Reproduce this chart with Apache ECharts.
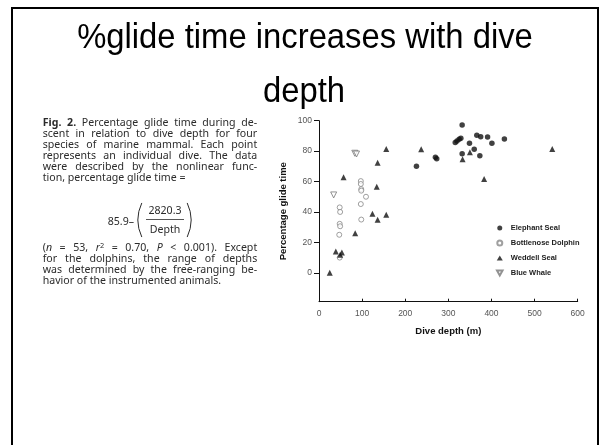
<!DOCTYPE html>
<html>
<head>
<meta charset="utf-8">
<script src="https://cdn.jsdelivr.net/npm/echarts@6/dist/echarts.min.js"></script>
<style>html,body{margin:0;padding:0;background:#fff}#main{width:602px;height:445px}</style>
</head>
<body>
<div id="main"></div>
<script>
// values: [depth (m), % glide time]
var xTicks = [0, 100, 200, 300, 400, 500, 600];
var yTicks = [0, 20, 40, 60, 80, 100];
var seriesNames = ['Elephant Seal', 'Bottlenose Dolphin', 'Weddell Seal', 'Blue Whale'];
var elephantSeal = [[226,70],[270,76],[273,75],[316,85.6],[320,86.7],[325,87.8],[329,88.4],[332,97.2],[332,78.3],[349,85.2],[360,81.2],[366,90.4],[373,77],[375,89.5],[391,89.3],[401,85.2],[430,88]];
var bottlenoseDolphin = [[48,43],[49,40],[48,32.2],[49,30.6],[47,25],[48,10],[97,60.3],[97,58.4],[98,55],[98,54],[109,50],[97,45.2],[98,35]];
var weddellSeal = [[25,0],[39,14],[49,11.8],[53,13.3],[84,26],[57,62.8],[124,38.9],[136,34.8],[156,38.1],[134,56.5],[136,72.4],[156,81.4],[237,81.2],[350,79.3],[333,74.7],[383,61.7],[541,81.4]];
var blueWhale = [[34,51.2],[83,78.6],[87,78.1]];

var titleLines = ['%glide time increases with dive', 'depth'];
// * bold, _ italic, ^ superscript; | splits a word into pieces
var captionTop = [
  {text: '*Fig.| *2.| Percentage glide time during de-', justify: true},
  {text: 'scent in relation to dive depth for four', justify: true},
  {text: 'species of marine mammal. Each point', justify: true},
  {text: 'represents an individual dive. The data', justify: true},
  {text: 'were described by the nonlinear func-', justify: true},
  {text: 'tion, percentage glide time =', justify: false}
];
var captionBottom = [
  {text: '(|_n = 53, _r|^2 = 0.70, _P < 0.001). Except', justify: true},
  {text: 'for the dolphins, the range of depths', justify: true},
  {text: 'was determined by the free-ranging be-', justify: true},
  {text: 'havior of the instrumented animals.', justify: false}
];

var capFamily = 'Noto Sans';
var capSize = 10.6;
var capColor = '#2b2b2b';
var capScaleY = 1.04;
var ctx = document.createElement('canvas').getContext('2d');

function segStyle(k, text) {
  return {
    text: text,
    fontSize: k == 's' ? capSize * 0.7 : capSize,
    fontFamily: capFamily,
    fontWeight: k == 'b' ? 'bold' : 'normal',
    fontStyle: k == 'i' ? 'italic' : 'normal',
    fill: capColor,
    verticalAlign: 'middle'
  };
}
function segFont(k) {
  var s = segStyle(k, '');
  return s.fontStyle + ' ' + s.fontWeight + ' ' + s.fontSize + 'px "' + capFamily + '"';
}
function parseWord(w) {
  return w.split('|').map(function (p) {
    var k = '';
    var c = p.charAt(0);
    if (c == '*') k = 'b';
    else if (c == '_') k = 'i';
    else if (c == '^') k = 's';
    if (k) p = p.slice(1);
    ctx.font = segFont(k);
    return {t: p, k: k, w: ctx.measureText(p).width};
  });
}
function captionText(lines, y0, pitch, left, width) {
  var els = [];
  ctx.font = segFont('');
  var space = ctx.measureText(' ').width;
  lines.forEach(function (line, i) {
    var words = line.text.split(' ').map(parseWord);
    var ww = words.map(function (s) { return s.reduce(function (a, b) { return a + b.w; }, 0); });
    var total = ww.reduce(function (a, b) { return a + b; }, 0);
    var gap = line.justify ? (width - total) / (words.length - 1) : space;
    var x = left;
    var y = y0 + i * pitch;
    words.forEach(function (segs) {
      segs.forEach(function (s) {
        els.push({type: 'text', x: x, y: s.k == 's' ? y - 3 : y, scaleY: capScaleY, style: segStyle(s.k, s.t)});
        x += s.w;
      });
      x += gap;
    });
  });
  return els;
}
function capLabel(x, y, text, align) {
  var st = segStyle('', text);
  st.align = align;
  return {type: 'text', x: x, y: y, scaleY: capScaleY, style: st};
}
function titleLabel(x, y, text) {
  return {type: 'text', x: x, y: y, scaleY: 1.08, style: {text: text, fontSize: 32.8, fontFamily: 'Liberation Sans', fill: '#000', align: 'center', verticalAlign: 'middle'}};
}

var graphics = [
  {type: 'rect', shape: {x: 12, y: 8, width: 586, height: 460}, style: {fill: null, stroke: '#000', lineWidth: 2}},
  titleLabel(305, 38, titleLines[0]),
  titleLabel(304, 92, titleLines[1]),
  // formula 85.9 - (2820.3 / Depth)
  capLabel(134, 221.5, '85.9\u2013', 'right'),
  {type: 'arc', shape: {cx: 178, cy: 220, r: 40, startAngle: Math.PI - 0.44, endAngle: Math.PI + 0.44}, style: {stroke: capColor, lineWidth: 1, fill: null}},
  {type: 'arc', shape: {cx: 151, cy: 220, r: 40, startAngle: -0.44, endAngle: 0.44}, style: {stroke: capColor, lineWidth: 1, fill: null}},
  capLabel(165, 210.5, '2820.3', 'center'),
  {type: 'line', shape: {x1: 146, y1: 219.5, x2: 184, y2: 219.5}, style: {stroke: capColor, lineWidth: 0.8}},
  capLabel(165, 229.5, 'Depth', 'center')
];
graphics = graphics.concat(captionText(captionTop, 123.3, 10.85, 42.7, 214.5));
graphics = graphics.concat(captionText(captionBottom, 248.3, 10.9, 42.7, 214.5));

var axisFont = 'Liberation Sans';
var myChart = echarts.init(document.getElementById('main'));
myChart.setOption({
  animation: false,
  backgroundColor: '#fff',
  grid: {left: 319, right: 24.3, top: 120.7, bottom: 143.3, containLabel: false},
  graphic: graphics,
  legend: {
    data: [
      {name: seriesNames[0], icon: 'circle'},
      {name: seriesNames[1], icon: 'circle'},
      {name: seriesNames[2], icon: 'triangle'},
      {name: seriesNames[3], icon: 'path://M0,0L10,0L5,9Z'}
    ],
    orient: 'vertical',
    left: 496, top: 224, padding: 0,
    itemWidth: 6, itemHeight: 5, itemGap: 7,
    textStyle: {fontFamily: axisFont, fontSize: 7.5, fontWeight: 'bold', color: '#222', lineHeight: 8, padding: [0, 0, 0, 3]}
  },
  xAxis: {
    type: 'value', min: 0, max: 600, interval: 100,
    name: 'Dive depth (m)', nameLocation: 'middle', nameGap: 25,
    nameTextStyle: {fontFamily: axisFont, fontSize: 9.5, fontWeight: 'bold', color: '#111'},
    axisLine: {show: true, onZero: false, lineStyle: {color: '#111', width: 1}},
    axisTick: {show: true, inside: true, length: 3, lineStyle: {color: '#111'}},
    axisLabel: {fontFamily: axisFont, fontSize: 8.5, color: '#555', margin: 7},
    splitLine: {show: false}
  },
  yAxis: {
    type: 'value', min: -19, max: 100,
    name: 'Percentage glide time', nameLocation: 'middle', nameGap: 31,
    nameTextStyle: {fontFamily: axisFont, fontSize: 9.5, fontWeight: 'bold', color: '#111'},
    axisLine: {show: true, onZero: false, lineStyle: {color: '#111', width: 1}},
    axisTick: {show: true, length: 5, customValues: yTicks, lineStyle: {color: '#111'}},
    axisLabel: {fontFamily: axisFont, fontSize: 8.5, color: '#555', margin: 7, customValues: yTicks},
    splitLine: {show: false}
  },
  series: [
    {name: seriesNames[0], type: 'scatter', data: elephantSeal, symbol: 'circle', symbolSize: 5.5, itemStyle: {color: '#111'}},
    {name: seriesNames[1], type: 'scatter', data: bottlenoseDolphin, symbol: 'circle', symbolSize: 5, itemStyle: {color: '#fff', borderColor: '#888', borderWidth: 1}},
    {name: seriesNames[2], type: 'scatter', data: weddellSeal, symbol: 'triangle', symbolSize: 6, itemStyle: {color: '#111'}},
    {name: seriesNames[3], type: 'scatter', data: blueWhale, symbol: 'triangle', symbolRotate: 180, symbolSize: 6, itemStyle: {color: '#fff', borderColor: '#777', borderWidth: 1}}
  ]
});
</script>
</body>
</html>
